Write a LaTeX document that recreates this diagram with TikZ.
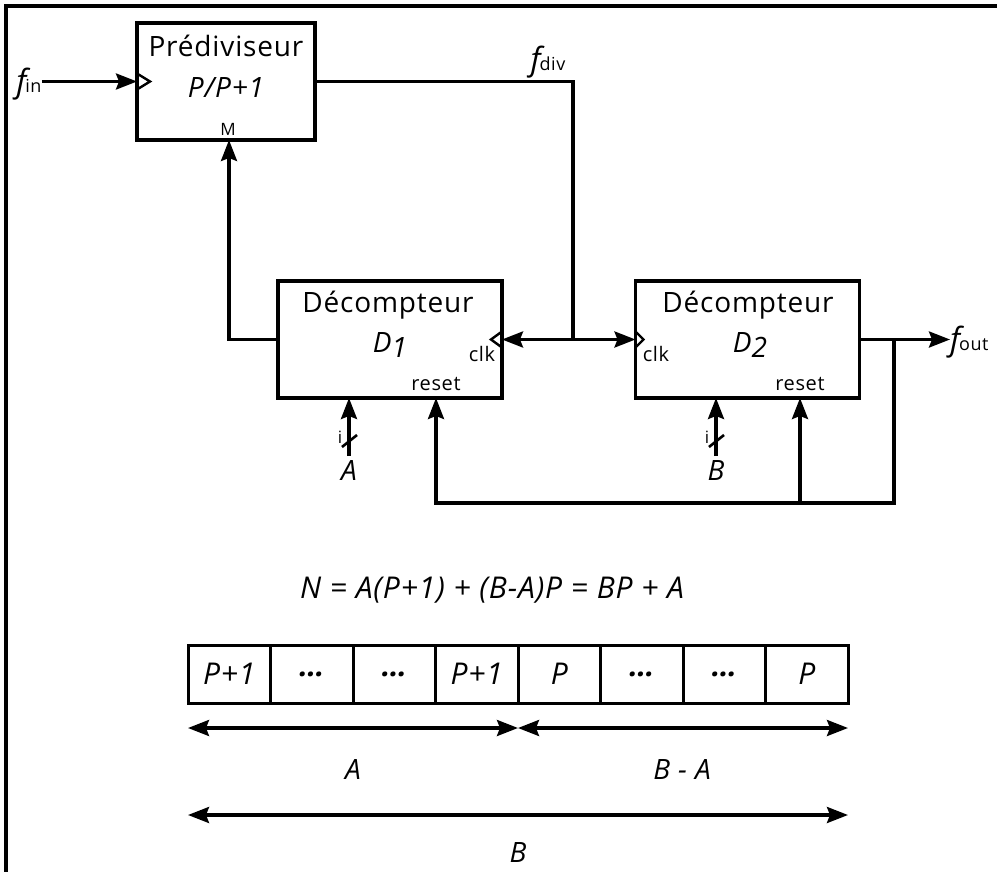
\documentclass[tikz,border=0pt]{standalone}
\usepackage{fontspec}
\setmainfont{Open Sans}[LetterSpace=3]
\usetikzlibrary{arrows.meta}
\newcommand{\fs}[1]{\fontsize{#1}{#1}\selectfont}
\newcommand{\fsig}[1]{{\fs{32}\itshape f}\kern-1pt{\fs{18}#1}}
\tikzset{
  wire/.style={line width=3.3pt},
  tip/.tip={Stealth[length=21pt,width=16pt,inset=3pt]},
  arr/.style={wire,-tip},
  darr/.style={wire,tip-tip},
  blk/.style={draw,line width=3.3pt,rectangle,inner sep=0pt,outer sep=0pt,minimum width=224pt,minimum height=117pt},
  clkline/.style={line width=2.4pt,line join=miter},
  cell/.style={draw,line width=3pt,rectangle,inner sep=0pt,outer sep=0pt,minimum width=82.5pt,minimum height=58pt,font=\fs{30}\itshape},
  big/.style={font=\fs{28},inner sep=0pt},
  bigit/.style={font=\fs{28}\itshape,inner sep=0pt},
  small/.style={font=\fs{20},inner sep=0pt},
  lab/.style={font=\fs{28}\itshape,inner sep=0pt},
}
\begin{document}
\begin{tikzpicture}[x=1pt,y=-1pt]
\useasboundingbox (0,0) rectangle (997,872);
% frame
\draw[line width=3.3pt] (6,872) -- (6,6) -- (997,6);

% blocks
\node[blk,minimum width=178pt] (pre) at (226,81.5) {};
\node[blk] (D1) at (390,339.5) {};
\node[blk] (D2) at (747.5,339.5) {};

% block texts
\node[big] (tpre) at (226,46) {Prédiviseur};
\node[bigit] (tpp) at (226,88) {P/P+1};
\node[font=\fs{17},inner sep=0pt] (tm) at (228,129) {M};
\node[big] (td1) at (388,305) {Décompteur};
\node[bigit] (td1b) at (390,345) {D\raisebox{-5pt}{\fs{28}1}};
\node[small] (clk1) at (482,354) {clk};
\node[small] (rst1) at (436,384) {reset};
\node[big] (td2) at (748,305) {Décompteur};
\node[bigit] (td2b) at (750,345) {D\raisebox{-5pt}{\fs{28}2}};
\node[small] (clk2) at (656,354) {clk};
\node[small] (rst2) at (800,384) {reset};

% clock triangles
\draw[clkline] (pre.west) ++(0,-8) -- ++(13,8) -- ++(-13,8);
\draw[clkline] (D1.east) ++(0,-8) -- ++(-11,8) -- ++(11,8);
\draw[clkline] (D2.west) ++(0,-8) -- ++(8,8) -- ++(-8,8);

% signal labels
\node[inner sep=0pt] (fin) at (29,84) {\fsig{in}};
\node[inner sep=0pt] (fdiv) at (548,62) {\fsig{div}};
\node[inner sep=0pt,anchor=west] (fout) at (950,342) {\fsig{out}};

% coordinates
\coordinate (j) at (573,339.5);
\coordinate (k) at (894,339.5);
\coordinate (fb) at (894,503);
\coordinate (r1) at (436,398);
\coordinate (r2) at (800,398);
\coordinate (m) at (229,140);
\coordinate (a1) at (349,398);
\coordinate (ain) at (349,456);
\coordinate (b1) at (716,398);
\coordinate (bin) at (716,456);

% wires
\draw[arr] (fin.east |- pre.west) -- (pre.west);
\draw[wire] (pre.east) -| (j);
\draw[arr] (j) -- (D1.east);
\draw[arr] (j) -- (D2.west);
\draw[arr] (D1.west) -| (m);
\draw[arr] (D2.east) -- (D2.east -| fout.west);
\draw[arr] (k) -- (fb) -| (r1);
\draw[arr] (fb -| r2) -- (r2);
\draw[arr] (ain) -- (a1);
\draw[arr] (bin) -- (b1);
\draw[line width=2.6pt] (342,447) -- (357,435);
\draw[line width=2.6pt] (709,447) -- (724,435);
\node[font=\fs{17},inner sep=0pt] (ia) at (340,437) {i};
\node[font=\fs{17},inner sep=0pt] (ib) at (707,437) {i};
\node[lab] (la) at (349,471) {A};
\node[lab] (lb) at (716,471) {B};

% equation
\node[font=\fs{30}\itshape,inner sep=0pt] (eq) at (492,590) {N = A(P+1) + (B-A)P = BP + A};

% cells
\foreach \i/\t in {1/P+1,2/\textbf{…},3/\textbf{…},4/P+1,5/P,6/\textbf{…},7/\textbf{…},8/P}{
  \node[cell] (c\i) at ({188+82.5*(\i-0.5)},674) {\t};
}
\coordinate (al) at (188,728);
\coordinate (am) at (518,728);
\coordinate (ar) at (848,728);
\coordinate (bl) at (188,815);
\coordinate (br) at (848,815);
\draw[darr] (al) -- (am);
\draw[darr] (am) -- (ar);
\draw[darr] (bl) -- (br);
\node[lab] (lA) at (353,770) {A};
\node[lab] (lBA) at (682,770) {B - A};
\node[lab] (lB) at (518,853) {B};
\end{tikzpicture}
\end{document}
